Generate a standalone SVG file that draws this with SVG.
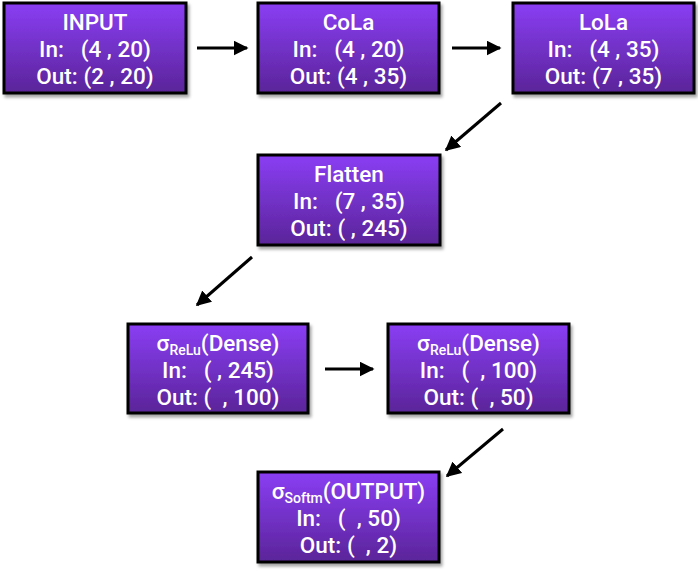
<svg xmlns="http://www.w3.org/2000/svg" width="698" height="570" viewBox="0 0 698 570">
<defs>
<linearGradient id="g" x1="0" y1="0" x2="0" y2="1">
<stop offset="0" stop-color="#8a3ef4"/>
<stop offset="1" stop-color="#5a2499"/>
</linearGradient>
<filter id="sh" x="-10%" y="-10%" width="125%" height="130%">
<feDropShadow dx="2" dy="3" stdDeviation="1.5" flood-color="#000" flood-opacity="0.35"/>
</filter>
<marker id="ah" viewBox="0 0 10 10" refX="9" refY="5" markerWidth="5" markerHeight="5" orient="auto" markerUnits="strokeWidth">
<path d="M0,0 L10,5 L0,10 z" fill="#000"/>
</marker>
<style>
.box{fill:url(#g);stroke:#000;stroke-width:3;filter:url(#sh)}
.t{font-family:Roboto,"Liberation Sans",sans-serif;font-size:22.5px;font-weight:500;fill:#fff;text-anchor:middle;white-space:pre}
.sub{font-size:14px;font-weight:500}
.c{stroke:#000;stroke-width:3;fill:none;marker-end:url(#ah)}
</style>
</defs>
<g id="connectors">
<line class="c" x1="197" y1="48" x2="247" y2="48"/>
<line class="c" x1="452" y1="48" x2="500" y2="48"/>
<line class="c" x1="501" y1="103" x2="446" y2="150"/>
<line class="c" x1="252" y1="257" x2="197" y2="305"/>
<line class="c" x1="325" y1="369" x2="373" y2="369"/>
<line class="c" x1="503" y1="429" x2="447" y2="476"/>
</g>
<g id="input">
<rect class="box" x="4" y="3" width="182" height="90"/>
<text class="t" x="95" y="30">INPUT</text>
<text class="t" x="95" y="57">In:   (4 , 20)</text>
<text class="t" x="95" y="84">Out: (2 , 20)</text>
</g>
<g id="cola">
<rect class="box" x="258" y="3" width="181" height="90"/>
<text class="t" x="348.5" y="30">CoLa</text>
<text class="t" x="348.5" y="57">In:   (4 , 20)</text>
<text class="t" x="348.5" y="84">Out: (4 , 35)</text>
</g>
<g id="lola">
<rect class="box" x="513" y="3" width="181" height="90"/>
<text class="t" x="603.5" y="30">LoLa</text>
<text class="t" x="603.5" y="57">In:   (4 , 35)</text>
<text class="t" x="603.5" y="84">Out: (7 , 35)</text>
</g>
<g id="flatten">
<rect class="box" x="258" y="155" width="182" height="90"/>
<text class="t" x="349" y="182">Flatten</text>
<text class="t" x="349" y="209">In:   (7 , 35)</text>
<text class="t" x="349" y="236">Out: ( , 245)</text>
</g>
<g id="dense1">
<rect class="box" x="128" y="324" width="180" height="89"/>
<text class="t" x="218" y="351">σ<tspan class="sub" dy="4">ReLu</tspan><tspan dy="-4">(Dense)</tspan></text>
<text class="t" x="218" y="378">In:   ( , 245)</text>
<text class="t" x="218" y="405">Out: (  , 100)</text>
</g>
<g id="dense2">
<rect class="box" x="388" y="324" width="181" height="89"/>
<text class="t" x="478.5" y="351">σ<tspan class="sub" dy="4">ReLu</tspan><tspan dy="-4">(Dense)</tspan></text>
<text class="t" x="478.5" y="378">In:   (  , 100)</text>
<text class="t" x="478.5" y="405">Out: (  , 50)</text>
</g>
<g id="output">
<rect class="box" x="258" y="472" width="181" height="90"/>
<text class="t" x="348.5" y="499">σ<tspan class="sub" dy="4">Softm</tspan><tspan dy="-4">(OUTPUT)</tspan></text>
<text class="t" x="348.5" y="526">In:   (  , 50)</text>
<text class="t" x="348.5" y="553">Out: (  , 2)</text>
</g>
</svg>
